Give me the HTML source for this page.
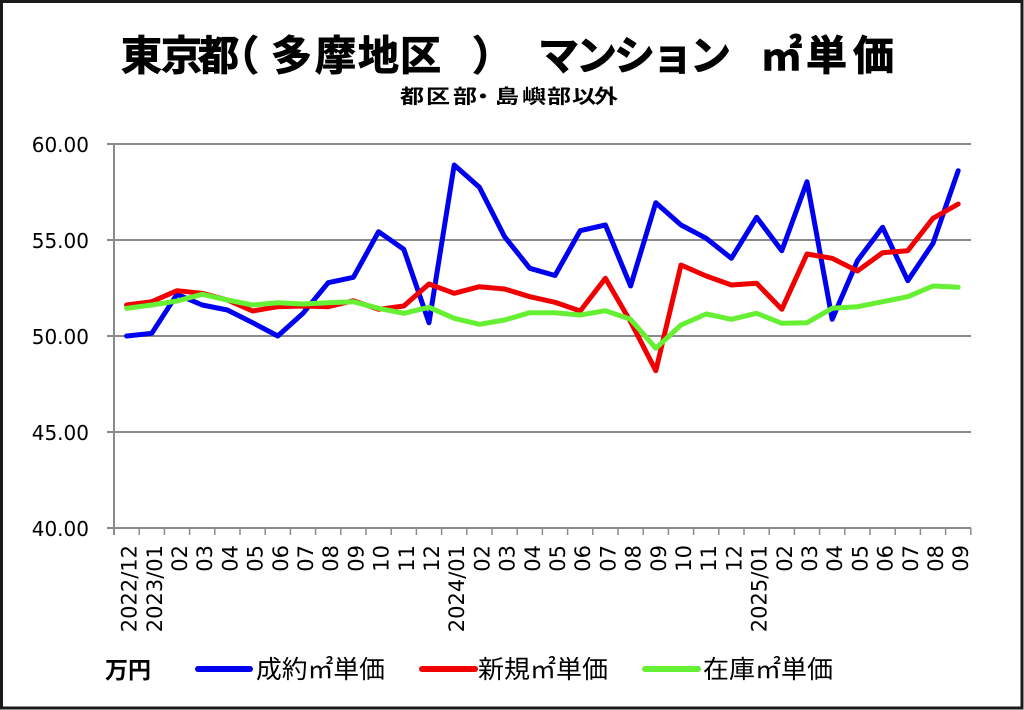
<!DOCTYPE html>
<html><head><meta charset="utf-8">
<style>
html,body{margin:0;padding:0;background:#fff;}
svg{display:block;}
</style></head>
<body>
<svg width="1024" height="710" viewBox="0 0 1024 710" xmlns="http://www.w3.org/2000/svg">
<rect x="0" y="0" width="1024" height="710" fill="#fff"/>
<rect x="1.5" y="1.5" width="1020.5" height="706.5" fill="none" stroke="#1a1a1a" stroke-width="3"/>

<!-- Title -->
<g stroke="#000" stroke-width="0.9">
<text font-family="'Liberation Sans','Noto Sans CJK JP',sans-serif" font-weight="bold" font-size="41" fill="#000" y="70"
 x="121 161 198 218 271 315 358 400 472">東京都（多摩地区）</text>
<text font-family="'Liberation Sans','Noto Sans CJK JP',sans-serif" font-weight="bold" font-size="41" fill="#000" y="70"
 x="538 576 614 652 690">マンション</text>
<text font-family="'Noto Sans CJK JP',sans-serif" font-weight="bold" font-size="41" fill="#000" y="70"
 x="761 806 853">㎡単価</text>
</g>

<!-- Subtitle -->
<g transform="translate(0,103) scale(1,0.8)">
<text font-family="'Liberation Sans','Noto Sans CJK JP',sans-serif" font-weight="bold" font-size="24" fill="#000" y="0"
 x="400 426 453 471 495 522 547 572 594">都区部・島嶼部以外</text>
</g>

<!-- Grid -->
<g stroke="#8a8a8a" stroke-width="2" fill="none">
<line x1="107" y1="144" x2="971" y2="144"/>
<line x1="107" y1="240" x2="971" y2="240"/>
<line x1="107" y1="336" x2="971" y2="336"/>
<line x1="107" y1="432" x2="971" y2="432"/>
<line x1="107" y1="528" x2="971" y2="528"/>
<line x1="114" y1="144" x2="114" y2="535"/>
</g>
<g stroke="#8a8a8a" stroke-width="1.5">
<line x1="139.2" y1="528" x2="139.2" y2="535"/><line x1="164.4" y1="528" x2="164.4" y2="535"/>
<line x1="189.6" y1="528" x2="189.6" y2="535"/><line x1="214.8" y1="528" x2="214.8" y2="535"/>
<line x1="240" y1="528" x2="240" y2="535"/><line x1="265.2" y1="528" x2="265.2" y2="535"/>
<line x1="290.4" y1="528" x2="290.4" y2="535"/><line x1="315.6" y1="528" x2="315.6" y2="535"/>
<line x1="340.8" y1="528" x2="340.8" y2="535"/><line x1="366" y1="528" x2="366" y2="535"/>
<line x1="391.2" y1="528" x2="391.2" y2="535"/><line x1="416.4" y1="528" x2="416.4" y2="535"/>
<line x1="441.6" y1="528" x2="441.6" y2="535"/><line x1="466.8" y1="528" x2="466.8" y2="535"/>
<line x1="492" y1="528" x2="492" y2="535"/><line x1="517.2" y1="528" x2="517.2" y2="535"/>
<line x1="542.4" y1="528" x2="542.4" y2="535"/><line x1="567.6" y1="528" x2="567.6" y2="535"/>
<line x1="592.8" y1="528" x2="592.8" y2="535"/><line x1="618" y1="528" x2="618" y2="535"/>
<line x1="643.2" y1="528" x2="643.2" y2="535"/><line x1="668.4" y1="528" x2="668.4" y2="535"/>
<line x1="693.6" y1="528" x2="693.6" y2="535"/><line x1="718.8" y1="528" x2="718.8" y2="535"/>
<line x1="744" y1="528" x2="744" y2="535"/><line x1="769.2" y1="528" x2="769.2" y2="535"/>
<line x1="794.4" y1="528" x2="794.4" y2="535"/><line x1="819.6" y1="528" x2="819.6" y2="535"/>
<line x1="844.8" y1="528" x2="844.8" y2="535"/><line x1="870" y1="528" x2="870" y2="535"/>
<line x1="895.2" y1="528" x2="895.2" y2="535"/><line x1="920.4" y1="528" x2="920.4" y2="535"/>
<line x1="945.6" y1="528" x2="945.6" y2="535"/><line x1="970.8" y1="528" x2="970.8" y2="535"/>
</g>

<!-- Y labels -->
<g font-family="'DejaVu Sans',sans-serif" font-size="20" fill="#000" text-anchor="end">
<text x="89" y="152">60.00</text>
<text x="89" y="248">55.00</text>
<text x="89" y="344">50.00</text>
<text x="89" y="440">45.00</text>
<text x="89" y="536">40.00</text>
</g>

<!-- X labels -->
<g font-family="'DejaVu Sans',sans-serif" font-size="21" fill="#000" text-anchor="end">
<text transform="translate(136.6,545) rotate(-90)">2022/12</text>
<text transform="translate(161.8,545) rotate(-90)">2023/01</text>
<text transform="translate(187,545) rotate(-90)">02</text>
<text transform="translate(212.2,545) rotate(-90)">03</text>
<text transform="translate(237.4,545) rotate(-90)">04</text>
<text transform="translate(262.6,545) rotate(-90)">05</text>
<text transform="translate(287.8,545) rotate(-90)">06</text>
<text transform="translate(313,545) rotate(-90)">07</text>
<text transform="translate(338.2,545) rotate(-90)">08</text>
<text transform="translate(363.4,545) rotate(-90)">09</text>
<text transform="translate(388.6,545) rotate(-90)">10</text>
<text transform="translate(413.8,545) rotate(-90)">11</text>
<text transform="translate(439,545) rotate(-90)">12</text>
<text transform="translate(464.2,545) rotate(-90)">2024/01</text>
<text transform="translate(489.4,545) rotate(-90)">02</text>
<text transform="translate(514.6,545) rotate(-90)">03</text>
<text transform="translate(539.8,545) rotate(-90)">04</text>
<text transform="translate(565,545) rotate(-90)">05</text>
<text transform="translate(590.2,545) rotate(-90)">06</text>
<text transform="translate(615.4,545) rotate(-90)">07</text>
<text transform="translate(640.6,545) rotate(-90)">08</text>
<text transform="translate(665.8,545) rotate(-90)">09</text>
<text transform="translate(691,545) rotate(-90)">10</text>
<text transform="translate(716.2,545) rotate(-90)">11</text>
<text transform="translate(741.4,545) rotate(-90)">12</text>
<text transform="translate(766.6,545) rotate(-90)">2025/01</text>
<text transform="translate(791.8,545) rotate(-90)">02</text>
<text transform="translate(817,545) rotate(-90)">03</text>
<text transform="translate(842.2,545) rotate(-90)">04</text>
<text transform="translate(867.4,545) rotate(-90)">05</text>
<text transform="translate(892.6,545) rotate(-90)">06</text>
<text transform="translate(917.8,545) rotate(-90)">07</text>
<text transform="translate(943,545) rotate(-90)">08</text>
<text transform="translate(968.2,545) rotate(-90)">09</text>
</g>

<!-- Series -->
<g fill="none" stroke-width="5" stroke-linejoin="round" stroke-linecap="round">
<polyline stroke="#0000f0" points="126.6,336 151.8,333.3 177,294.3 202.2,305 227.4,310 252.6,322.7 277.8,336 303,313.3 328.2,282.7 353.4,277.3 378.6,231.7 403.8,249.3 429,322.7 454.2,165 479.4,187.3 504.6,236.7 529.8,268.3 555,275.5 580.2,230.7 605.4,225 630.6,286 655.8,202.7 681,225 706.2,238.3 731.4,258.3 756.6,217.3 781.8,250.7 807,181.7 832.2,319.3 857.4,260.7 882.6,227.3 907.8,280.7 933,243.3 958.2,170.7"/>
<polyline stroke="#f00000" points="126.6,305 151.8,301.7 177,290.7 202.2,293.3 227.4,300 252.6,311 277.8,306.7 303,306 328.2,306.7 353.4,300.7 378.6,309.3 403.8,306 429,284 454.2,293.3 479.4,286.7 504.6,289 529.8,296.7 555,302.3 580.2,311 605.4,278.3 630.6,321.7 655.8,370.7 681,265 706.2,276 731.4,285 756.6,283.3 781.8,309.3 807,254 832.2,258.3 857.4,271 882.6,252.7 907.8,250.7 933,218.3 958.2,204"/>
<polyline stroke="#66f033" points="126.6,308.3 151.8,305 177,301 202.2,294.3 227.4,300 252.6,305 277.8,302.7 303,304 328.2,302.7 353.4,301.7 378.6,308.3 403.8,313.3 429,307.3 454.2,318.3 479.4,324.3 504.6,320 529.8,312.7 555,312.7 580.2,315 605.4,310.7 630.6,319.3 655.8,348.3 681,325 706.2,314 731.4,319.3 756.6,313.3 781.8,323.3 807,322.7 832.2,308.3 857.4,306.7 882.6,301.7 907.8,296.7 933,286 958.2,287.3"/>
</g>

<!-- Legend -->
<text x="105" y="678" font-family="'Liberation Sans','Noto Sans CJK JP',sans-serif" font-weight="bold" font-size="23" fill="#000">万円</text>
<g stroke-width="6" stroke-linecap="round">
<line x1="198" y1="669" x2="250" y2="669" stroke="#0000f0"/>
<line x1="422" y1="669" x2="475" y2="669" stroke="#f00000"/>
<line x1="645" y1="669" x2="698" y2="669" stroke="#66f033"/>
</g>
<g font-family="'Liberation Sans','Noto Sans CJK JP',sans-serif" font-size="25" fill="#000">
<text x="256" y="678" textLength="129" lengthAdjust="spacingAndGlyphs">成約㎡単価</text>
<text x="478" y="678" textLength="130" lengthAdjust="spacingAndGlyphs">新規㎡単価</text>
<text x="703" y="678" textLength="130" lengthAdjust="spacingAndGlyphs">在庫㎡単価</text>
</g>
</svg>
</body></html>
